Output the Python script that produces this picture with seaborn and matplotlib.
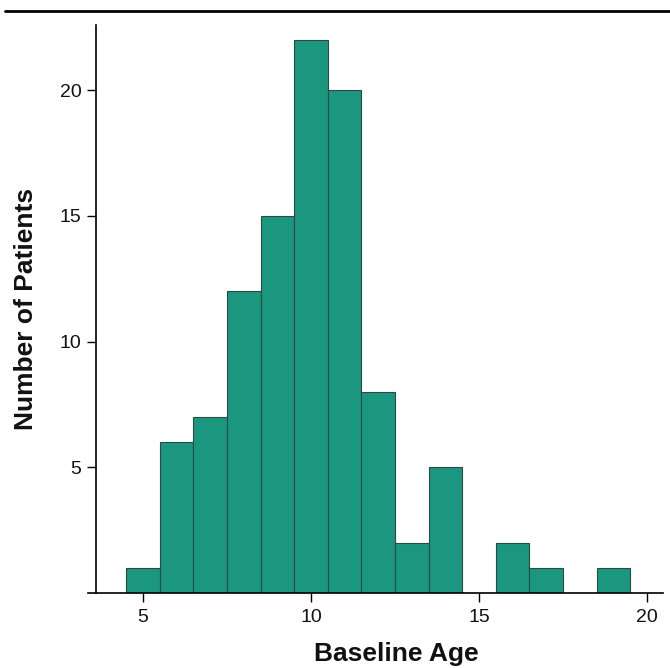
import matplotlib
matplotlib.use("Agg")
import matplotlib.pyplot as plt
from matplotlib.lines import Line2D
import seaborn as sns
import pandas as pd

# Data
age_bins = [5, 6, 7, 8, 9, 10, 11, 12, 13, 14, 15, 16, 17, 18, 19]
patient_counts = [1, 6, 7, 12, 15, 22, 20, 8, 2, 5, 0, 2, 1, 0, 1]
x_ticks = [5, 10, 15, 20]
y_ticks = [5, 10, 15, 20]

df = pd.DataFrame({"age": age_bins, "count": patient_counts})

sns.set_style("ticks")
plt.rcParams['font.family'] = ['Liberation Sans', 'DejaVu Sans']

fig = plt.figure(figsize=(6.7, 6.68), dpi=100)
ax = fig.add_axes([0.1313, 0.1123, 0.8583, 0.8503])

sns.histplot(data=df, x="age", weights="count", discrete=True, ax=ax,
             color="#1b9780", alpha=1.0, edgecolor="#2b4a42", linewidth=0.8)

ax.set_xlim(3.36, 20.48)
ax.set_ylim(0, 22.6)
ax.set_xticks(x_ticks)
ax.set_yticks(y_ticks)
ax.tick_params(axis="both", labelsize=14, length=6.5, width=1, color="black",
               direction="out", labelcolor="#111111")
ax.tick_params(axis="x", pad=5)
ax.tick_params(axis="y", pad=4)

for s in ["top", "right"]:
    ax.spines[s].set_visible(False)
for s in ["left", "bottom"]:
    ax.spines[s].set_color("black")
    ax.spines[s].set_linewidth(1.2)
ax.spines["left"].set_position(("axes", 0.014))

ax.set_xlabel("Baseline Age", fontsize=19, fontweight="bold", color="#111111")
ax.set_ylabel("Number of Patients", fontsize=19, fontweight="bold", color="#111111")
ax.xaxis.set_label_coords(0.536, -0.086)
ax.yaxis.set_label_coords(-0.087, 0.5)

fig.add_artist(Line2D([0.007, 1.0], [0.984, 0.984], transform=fig.transFigure,
                      color="black", linewidth=2))

fig.savefig("out.png", dpi=100)
